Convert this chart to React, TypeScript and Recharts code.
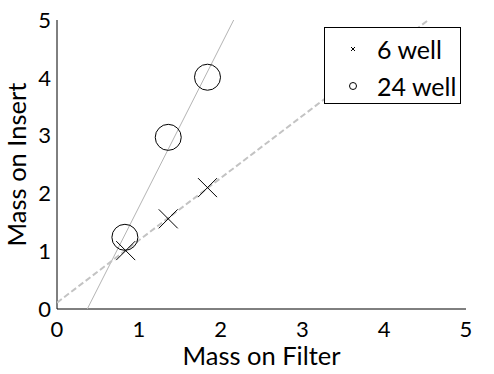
import React from 'react';
import { ComposedChart, Scatter, XAxis, YAxis, Legend } from 'recharts';

const ticks = [0, 1, 2, 3, 4, 5];
const innerTicks = [1, 2, 3, 4];

const filter6 = [0.84, 1.36, 1.84];
const insert6 = [1.01, 1.56, 2.1];
const filter24 = [0.83, 1.36, 1.84];
const insert24 = [1.24, 2.97, 4.01];

const fit6X = [0, 4.54];
const fit6Y = [0.11, 5];
const fit24X = [0.37, 2.16];
const fit24Y = [0, 5];

const seriesNames = ['6 well', '24 well'];

const zip = (xs: number[], ys: number[]) => xs.map((x, i) => ({ x, y: ys[i] }));

const data6 = zip(filter6, insert6);
const data24 = zip(filter24, insert24);
const line6 = zip(fit6X, fit6Y);
const line24 = zip(fit24X, fit24Y);

const FONT = 'Lato, "Open Sans", sans-serif';

const Cross = (props: any) => {
  const { cx, cy } = props;
  const s = 9.5;
  return (
    <g>
      <line x1={cx - s} y1={cy - s} x2={cx + s} y2={cy + s} stroke="#000" strokeWidth={1} />
      <line x1={cx - s} y1={cy + s} x2={cx + s} y2={cy - s} stroke="#000" strokeWidth={1} />
    </g>
  );
};

const Circle = (props: any) => {
  const { cx, cy } = props;
  return <circle cx={cx} cy={cy} r={13} fill="none" stroke="#000" strokeWidth={1} />;
};

const Empty = () => <g />;

const LegendBox = () => (
  <div
    style={{
      width: 137,
      height: 77,
      boxSizing: 'border-box',
      border: '1px solid #000',
      background: '#fff',
      position: 'relative',
      fontFamily: FONT,
      fontSize: 25,
      color: '#000',
    }}
  >
    {seriesNames.map((name, i) => (
      <div
        key={name}
        style={{ position: 'absolute', left: 0, top: i === 0 ? 5 : 42, height: 32, width: '100%' }}
      >
        <svg width={16} height={32} style={{ position: 'absolute', left: 20, top: 0 }}>
          {i === 0 ? (
            <g>
              <line x1={6} y1={14} x2={10} y2={18} stroke="#000" />
              <line x1={6} y1={18} x2={10} y2={14} stroke="#000" />
            </g>
          ) : (
            <circle cx={8} cy={16} r={3.5} fill="none" stroke="#000" />
          )}
        </svg>
        <span style={{ position: 'absolute', left: 52, top: 0, lineHeight: '32px', whiteSpace: 'nowrap' }}>
          {name}
        </span>
      </div>
    ))}
  </div>
);

export default function App() {
  return (
    <div style={{ position: 'absolute', left: 0, top: 0, background: '#fff' }}>
      <ComposedChart
        width={494}
        height={374}
        margin={{ top: 20, right: 28, bottom: 0, left: 0 }}
        style={{ fontFamily: FONT }}
      >
        <XAxis
          xAxisId={0}
          type="number"
          dataKey="x"
          domain={[0, 5]}
          ticks={ticks}
          allowDataOverflow
          height={65}
          tickSize={0}
          tickMargin={12}
          tickLine={false}
          axisLine={{ stroke: '#000', strokeWidth: 1 }}
          tick={{ fill: '#000', fontSize: 22, fontFamily: FONT }}
          label={{ value: 'Mass on Filter', position: 'insideBottom', offset: 9, fill: '#000', fontSize: 25.5, fontFamily: FONT }}
        />
        <XAxis
          xAxisId="bm"
          type="number"
          domain={[0, 5]}
          ticks={innerTicks}
          allowDataOverflow
          mirror
          height={0}
          tick={false}
          tickSize={5}
          axisLine={false}
          tickLine={{ stroke: '#000' }}
        />
        <XAxis
          xAxisId="top"
          orientation="top"
          type="number"
          domain={[0, 5]}
          ticks={innerTicks}
          allowDataOverflow
          mirror
          height={0}
          tick={false}
          tickSize={5}
          axisLine={{ stroke: '#000' }}
          tickLine={{ stroke: '#000' }}
        />
        <YAxis
          yAxisId={0}
          type="number"
          dataKey="y"
          domain={[0, 5]}
          ticks={ticks}
          allowDataOverflow
          width={57}
          tickSize={0}
          tickMargin={6}
          tickLine={false}
          axisLine={{ stroke: '#000', strokeWidth: 1 }}
          tick={{ fill: '#000', fontSize: 22, fontFamily: FONT }}
          label={{
            value: 'Mass on Insert',
            angle: -90,
            position: 'insideLeft',
            offset: 17,
            fill: '#000',
            fontSize: 25.5,
            fontFamily: FONT,
            style: { textAnchor: 'middle' },
          }}
        />
        <YAxis
          yAxisId="lm"
          type="number"
          domain={[0, 5]}
          ticks={innerTicks}
          allowDataOverflow
          mirror
          width={0}
          tick={false}
          tickSize={5}
          axisLine={false}
          tickLine={{ stroke: '#000' }}
        />
        <YAxis
          yAxisId="right"
          orientation="right"
          type="number"
          domain={[0, 5]}
          ticks={innerTicks}
          allowDataOverflow
          mirror
          width={0}
          tick={false}
          tickSize={5}
          axisLine={{ stroke: '#000' }}
          tickLine={{ stroke: '#000' }}
        />
        <Scatter
          data={line24}
          line={{ stroke: '#b4b4b4', strokeWidth: 1 }}
          shape={Empty}
          legendType="none"
          isAnimationActive={false}
        />
        <Scatter
          data={line6}
          line={{ stroke: '#c3c3c3', strokeWidth: 2, strokeDasharray: '6 3' }}
          shape={Empty}
          legendType="none"
          isAnimationActive={false}
        />
        <Scatter name={seriesNames[0]} data={data6} shape={Cross} isAnimationActive={false} />
        <Scatter name={seriesNames[1]} data={data24} shape={Circle} isAnimationActive={false} />
        <Legend
          layout="vertical"
          align="center"
          verticalAlign="middle"
          content={LegendBox}
          wrapperStyle={{ left: 324, top: 27, width: 137, height: 77 }}
        />
      </ComposedChart>
    </div>
  );
}
